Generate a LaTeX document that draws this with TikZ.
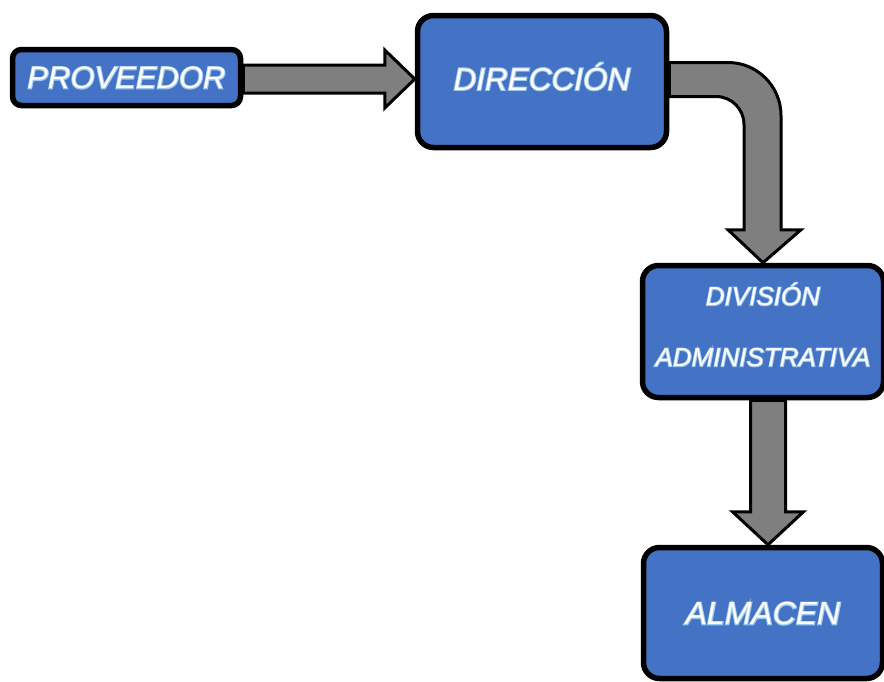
\documentclass[tikz,border=0pt]{standalone}
\usepackage{fontspec}
\setmainfont{Liberation Sans}
\newfontfamily\rimfont{Liberation Sans}[BoldItalicFont={Liberation Sans Italic},
  BoldItalicFeatures={FakeBold=6}]
\usetikzlibrary{calc}
\definecolor{boxblue}{HTML}{4472C4}
\definecolor{arrowgray}{HTML}{7F7F7F}
\definecolor{glowblue}{HTML}{9CC8F0}
% white letters with a light blue rim
\newcommand\glowtxt[1]{\leavevmode
  \rlap{\rimfont\bfseries\itshape\color{glowblue}#1}%
  {\itshape\color{white}#1}}
\tikzset{
  box/.style={draw=black, line width=5.5pt, fill=boxblue, rounded corners=16pt,
    inner sep=0pt, text depth=0pt},
  blockarrow/.style={draw=black, line width=3pt, fill=arrowgray, line join=miter}
}
\begin{document}
\begin{tikzpicture}[x=1pt,y=-1pt]
\useasboundingbox (0,0) rectangle (884,681);
% Boxes
%-----------------------------------------------------------%
  \node[box, rounded corners=9pt, minimum width=228pt, minimum height=56pt,
    font=\fontsize{31}{36}\selectfont, text height=22pt]
    (prov) at (126.5,77.5) {\glowtxt{PROVEEDOR}};
  \node[box, minimum width=249pt, minimum height=132pt,
    font=\fontsize{31.5}{37}\selectfont, text height=17pt]
    (dir) at (542,81.5) {\glowtxt{DIRECCIÓN}};
  \node[box, minimum width=241pt, minimum height=132pt, align=center,
    font=\fontsize{26}{61}\selectfont, text height=69.6pt]
    (div) at (763,331.5) {\glowtxt{DIVISIÓN}\\\glowtxt{ADMINISTRATIVA}};
  \node[box, minimum width=239pt, minimum height=131pt,
    font=\fontsize{32}{38}\selectfont, text height=23pt]
    (alm) at (763,613) {\glowtxt{ALMACEN}};
% Arrows
%-----------------------------------------------------------%
% proveedor to direccion
  \coordinate (a0) at ($(prov.east)+(0,1.5)$);
  \coordinate (a1) at (dir.west |- a0);
  \draw[blockarrow] ($(a0)+(0,-14)$) -- ($(a1)+(-30,-14)$) -- ($(a1)+(-30,-29)$)
    -- (a1) -- ($(a1)+(-30,29)$) -- ($(a1)+(-30,14)$) -- ($(a0)+(0,14)$) -- cycle;
% direccion bending down to division
  \coordinate (b0) at ($(dir.east)+(0,-19)$);
  \coordinate (b1) at ($(dir.east)+(0,15)$);
  \coordinate (bt) at (div.north);
  \coordinate (bo) at ($(bt)+(18,-33)$);
  \coordinate (bi) at ($(bt)+(-19,-33)$);
  \draw[blockarrow] (b0) -- ($(b0 -| bo)+(-53,0)$)
    arc[start angle=90, end angle=0, radius=53pt] -- (bo)
    -- ($(bo)+(20,0)$) -- (bt) -- ($(bi)+(-16,0)$) -- (bi)
    -- ($(bi |- b1)+(0,28)$) arc[start angle=0, end angle=90, radius=28pt]
    -- (b1) -- cycle;
% division to almacen
  \coordinate (c0) at ($(div.south)+(5,0)$);
  \coordinate (c1) at (c0 |- alm.north);
  \draw[blockarrow] ($(c0)+(-17.5,0)$) -- ($(c1)+(-17.5,-33)$) -- ($(c1)+(-35.5,-33)$)
    -- (c1) -- ($(c1)+(35.5,-33)$) -- ($(c1)+(17.5,-33)$) -- ($(c0)+(17.5,0)$) -- cycle;
\end{tikzpicture}
\end{document}
